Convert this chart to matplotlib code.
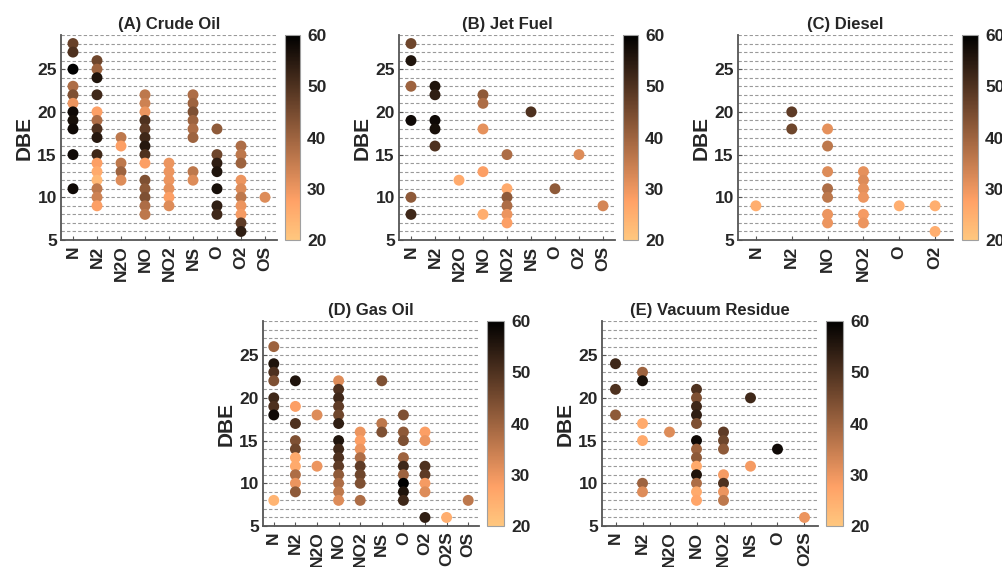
import matplotlib
matplotlib.use("Agg")
import matplotlib.pyplot as plt
import numpy as np

plt.rcParams['font.family'] = ['Liberation Sans', 'DejaVu Sans']
plt.rcParams['font.weight'] = 'bold'

# ---------------- Data ----------------
# (A) Crude Oil
crude_cat = ["N", "N2", "N2O", "NO", "NO2", "NS", "O", "O2", "OS"]
crude_dbe = [
    [28, 27, 25, 23, 22, 21, 20, 19, 18, 15, 11],
    [26, 25, 24, 22, 20, 19, 18, 17, 15, 14, 13, 12, 11, 10, 9],
    [17, 16, 14, 13, 12],
    [22, 21, 20, 19, 18, 17, 16, 15, 14, 12, 11, 10, 9, 8],
    [14, 13, 12, 11, 10, 9],
    [22, 21, 20, 19, 18, 17, 13, 12],
    [18, 15, 14, 13, 11, 9, 8],
    [16, 15, 14, 12, 11, 10, 9, 8, 7, 6],
    [10],
]
crude_val = [
    [47, 50, 60, 38, 44, 30, 58, 57, 58, 58, 58],
    [46, 40, 56, 52, 28, 38, 50, 55, 52, 28, 26, 23, 36, 34, 28],
    [36, 28, 36, 40, 32],
    [36, 34, 30, 50, 48, 52, 55, 50, 28, 44, 42, 44, 38, 36],
    [30, 30, 30, 31, 28, 32],
    [38, 40, 44, 40, 38, 40, 36, 32],
    [42, 46, 54, 56, 57, 54, 52],
    [38, 36, 40, 30, 32, 36, 30, 29, 48, 54],
    [32],
]

# (B) Jet Fuel
jet_cat = ["N", "N2", "N2O", "NO", "NO2", "NS", "O", "O2", "OS"]
jet_dbe = [
    [28, 26, 23, 19, 10, 8],
    [23, 22, 19, 18, 16],
    [12],
    [22, 21, 18, 13, 8],
    [15, 11, 10, 9, 8, 7],
    [20],
    [11],
    [15],
    [9],
]
jet_val = [
    [46, 56, 40, 58, 42, 52],
    [56, 54, 58, 57, 50],
    [26],
    [42, 38, 31, 28, 25],
    [38, 26, 42, 38, 30, 28],
    [50],
    [42],
    [32],
    [33],
]

# (C) Diesel
diesel_cat = ["N", "N2", "NO", "NO2", "O", "O2"]
diesel_dbe = [
    [9],
    [20, 18],
    [18, 16, 13, 11, 10, 8, 7],
    [13, 12, 11, 10, 8, 7],
    [9],
    [9, 6],
]
diesel_val = [
    [25],
    [48, 46],
    [31, 36, 32, 38, 36, 30, 30],
    [31, 32, 31, 30, 29, 30],
    [25],
    [25, 25],
]

# (D) Gas Oil
gas_cat = ["N", "N2", "N2O", "NO", "NO2", "NS", "O", "O2", "O2S", "OS"]
gas_dbe = [
    [26, 24, 23, 22, 20, 19, 18, 8],
    [22, 19, 17, 15, 14, 13, 12, 11, 10, 9],
    [18, 12],
    [22, 21, 20, 19, 18, 17, 15, 14, 13, 12, 11, 10, 9, 8],
    [16, 15, 14, 13, 12, 11, 10, 8],
    [22, 17, 16],
    [18, 16, 15, 13, 12, 11, 10, 9, 8],
    [16, 15, 12, 11, 10, 9, 6],
    [6],
    [8],
]
gas_val = [
    [40, 56, 50, 44, 52, 50, 58, 24],
    [56, 28, 50, 44, 46, 26, 26, 38, 30, 42],
    [32, 30],
    [32, 50, 52, 48, 46, 54, 56, 52, 50, 48, 42, 38, 36, 32],
    [30, 28, 30, 38, 48, 46, 44, 38],
    [44, 36, 44],
    [44, 42, 44, 40, 52, 40, 60, 56, 52],
    [28, 30, 50, 48, 29, 32, 54],
    [25],
    [36],
]

# (E) Vacuum Residue
vr_cat = ["N", "N2", "N2O", "NO", "NO2", "NS", "O", "O2S"]
vr_dbe = [
    [24, 21, 18],
    [23, 22, 17, 15, 10, 9],
    [16],
    [21, 20, 19, 18, 17, 15, 14, 13, 12, 11, 10, 9, 8],
    [16, 15, 14, 11, 10, 9, 8],
    [20, 12],
    [14],
    [6],
]
vr_val = [
    [52, 50, 42],
    [40, 57, 26, 26, 40, 32],
    [32],
    [50, 44, 52, 54, 44, 58, 40, 42, 26, 56, 38, 26, 27],
    [48, 46, 42, 29, 50, 30, 36],
    [52, 29],
    [58],
    [30],
]

titles = ["(A) Crude Oil", "(B) Jet Fuel", "(C) Diesel", "(D) Gas Oil", "(E) Vacuum Residue"]
panels = [
    (crude_cat, crude_dbe, crude_val),
    (jet_cat, jet_dbe, jet_val),
    (diesel_cat, diesel_dbe, diesel_val),
    (gas_cat, gas_dbe, gas_val),
    (vr_cat, vr_dbe, vr_val),
]

# pixel boxes [left, top, right, bottom] for axes and colorbar x-range
W, H = 1003, 567
ax_boxes = [
    (61, 35, 277, 240), (399, 35, 615, 240), (738, 35, 953, 240),
    (263, 321, 479, 526), (602, 321, 818, 526),
]
cb_x = [(285, 300), (623, 638), (962, 978), (487, 504), (826, 843)]

fig = plt.figure(figsize=(W / 100, H / 100), dpi=100)
cmap = plt.get_cmap("copper_r")
norm = matplotlib.colors.Normalize(vmin=20, vmax=60)
spine_col = "#555555"
text_col = "#262626"
TICK_FS = 12.5

for i, ((cats, dbes, vals), title) in enumerate(zip(panels, titles)):
    l, t, r, b = ax_boxes[i]
    ax = fig.add_axes([l / W, 1 - b / H, (r - l) / W, (b - t) / H])
    xs, ys, cs = [], [], []
    for j, (dl, vl) in enumerate(zip(dbes, vals)):
        xs += [j] * len(dl)
        ys += dl
        cs += vl
    sc = ax.scatter(xs, ys, c=cs, cmap=cmap, norm=norm, s=62, linewidths=0, zorder=3)
    ax.set_xlim(-0.5, len(cats) - 0.5)
    ax.set_ylim(5, 29)
    ax.set_xticks(range(len(cats)))
    ax.set_xticklabels(cats, rotation=90, fontsize=TICK_FS, fontweight='bold', color=text_col)
    ax.set_yticks([5, 10, 15, 20, 25])
    ax.set_yticks(np.arange(6, 30, 1), minor=True)
    ax.tick_params(axis='y', which='major', labelsize=TICK_FS, colors=text_col, direction='in',
                   length=3, color=spine_col, pad=3)
    ax.tick_params(axis='y', which='minor', length=0)
    ax.tick_params(axis='x', direction='in', length=3, color=spine_col, colors=text_col, pad=4)
    for lab in ax.get_yticklabels():
        lab.set_fontweight('bold')
    ax.yaxis.grid(True, which='both', linestyle=(0, (3, 2)), color='#9a9a9a', linewidth=0.8, zorder=0)
    ax.set_axisbelow(True)
    for sp in ['top', 'right']:
        ax.spines[sp].set_visible(False)
    for sp in ['left', 'bottom']:
        ax.spines[sp].set_color(spine_col)
        ax.spines[sp].set_linewidth(1.3)
    ax.set_ylabel("DBE", fontsize=15, fontweight='bold', color=text_col, labelpad=3)
    ax.set_title(title, fontsize=12, fontweight='bold', color=text_col, pad=4)

    c0, c1 = cb_x[i]
    cax = fig.add_axes([c0 / W, 1 - b / H, (c1 - c0) / W, (b - t) / H])
    cb = fig.colorbar(sc, cax=cax)
    cb.set_ticks([20, 30, 40, 50, 60])
    cb.outline.set_edgecolor('#a0a0a0')
    cb.outline.set_linewidth(0.8)
    cax.tick_params(length=0, labelsize=TICK_FS, colors=text_col, pad=5)
    for lab in cax.get_yticklabels():
        lab.set_fontweight('bold')

fig.savefig("out.png", dpi=100)
